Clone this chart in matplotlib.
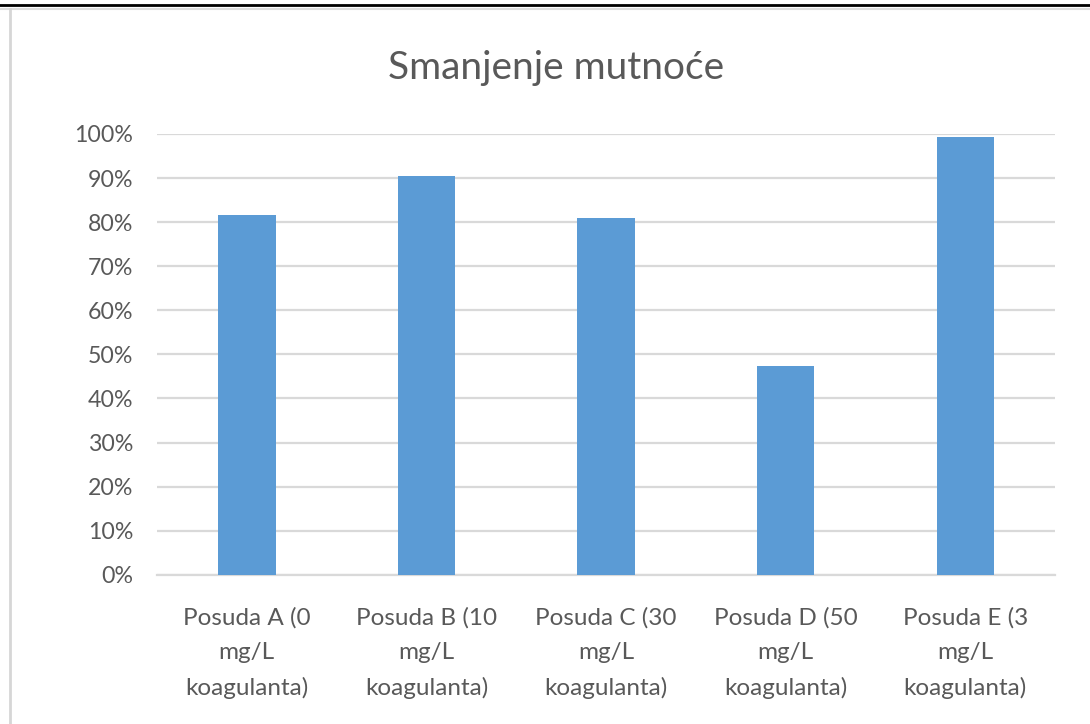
import matplotlib.pyplot as plt
from matplotlib.lines import Line2D
from matplotlib.ticker import PercentFormatter

plt.rcParams['font.family'] = ['Lato', 'DejaVu Sans']

categories = ['Posuda A (0\nmg/L\nkoagulanta)', 'Posuda B (10\nmg/L\nkoagulanta)',
              'Posuda C (30\nmg/L\nkoagulanta)', 'Posuda D (50\nmg/L\nkoagulanta)',
              'Posuda E (3\nmg/L\nkoagulanta)']
values = [81.7, 90.4, 81.0, 47.3, 99.3]
yticks = [0, 10, 20, 30, 40, 50, 60, 70, 80, 90, 100]

txt = '#595959'
fig = plt.figure(figsize=(10.9, 7.24), dpi=100)
ax = fig.add_axes([0.144, 0.206, 0.824, 0.609])

x = range(len(categories))
ax.bar(x, values, width=0.32, color='#5b9bd5', zorder=3)

ax.set_xlim(-0.5, len(categories) - 0.5)
ax.set_ylim(0, 100)
ax.set_yticks(yticks)
ax.yaxis.set_major_formatter(PercentFormatter(decimals=0))
ax.grid(axis='y', color='#d9d9d9', linewidth=1.6, zorder=0)
for s in ['top', 'right', 'left']:
    ax.spines[s].set_visible(False)
ax.spines['bottom'].set_color('#d9d9d9')
ax.spines['bottom'].set_linewidth(1.6)
ax.set_xticks(list(x))
ax.set_xticklabels(categories, linespacing=1.8, fontsize=17.5)
ax.tick_params(axis='both', length=0, colors=txt)
ax.tick_params(axis='y', labelsize=16.7, pad=17)
ax.tick_params(axis='x', pad=23)

fig.text(0.51, 0.906, 'Smanjenje mutnoće', ha='center', va='center', fontsize=28, color=txt)

# screenshot frame edges
fig.add_artist(Line2D([0, 1], [0.993, 0.993], color='black', linewidth=2, transform=fig.transFigure))
fig.add_artist(Line2D([0, 1], [0.988, 0.988], color='#dddddd', linewidth=1.5, transform=fig.transFigure))
fig.add_artist(Line2D([0.0095, 0.0095], [0, 0.988], color='#d6d6d6', linewidth=2, transform=fig.transFigure))

fig.savefig('out.png', dpi=100)
